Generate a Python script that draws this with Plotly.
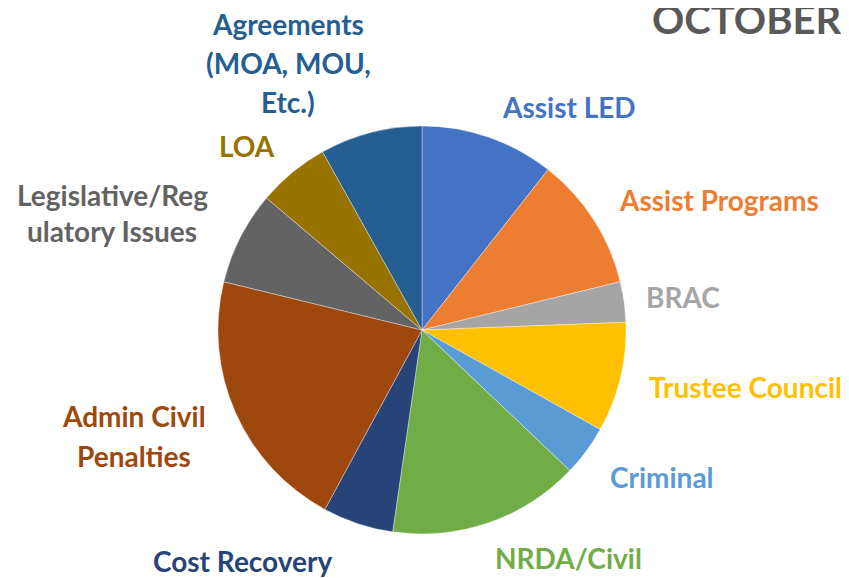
import plotly.graph_objects as go

categories = ["Assist LED", "Assist Programs", "BRAC", "Trustee Council", "Criminal",
              "NRDA/Civil", "Cost Recovery", "Admin Civil Penalties",
              "Legislative/Regulatory Issues", "LOA", "Agreements (MOA, MOU, Etc.)"]
values = [10.6, 10.6, 3.2, 8.7, 4.0, 15.2, 5.6, 20.9, 7.4, 5.7, 8.1]
colors = ["#4472C4", "#ED7D31", "#A5A5A5", "#FFC000", "#5B9BD5", "#70AD47",
          "#264478", "#9E480E", "#636363", "#997300", "#255E91"]
label_lines = [["Assist LED"], ["Assist Programs"], ["BRAC"], ["Trustee Council"],
               ["Criminal"], ["NRDA/Civil"], ["Cost Recovery"],
               ["Admin Civil", "Penalties"], ["Legislative/Reg", "ulatory Issues"],
               ["LOA"], ["Agreements", "(MOA, MOU,", "Etc.)"]]
title_text = "OCTOBER"

OFF = 8  # page body margin
W, H = 849 - OFF, 578 - OFF
cx, cy, R = 422 - OFF, 330 - OFF, 204

fig = go.Figure(go.Pie(
    labels=categories, values=values, sort=False, direction="clockwise", rotation=0,
    marker=dict(colors=colors, line=dict(color="rgba(255,255,255,0.6)", width=0.6)),
    textinfo="none", hoverinfo="label+percent", showlegend=False,
    domain=dict(x=[(cx - R) / W, (cx + R) / W], y=[(H - cy - R) / H, (H - cy + R) / H]),
))

# label centres (px in window) and line spacing
label_pos = [(569, 107), (719, 200), (683, 297), (745, 387), (662, 477), (568, 558),
             (242, 561), (134, 436), (112, 213), (247, 146), (288, 63)]
line_gap = [0, 0, 0, 0, 0, 0, 0, 40, 36, 0, 39]

annotations = []
for lines, (x, y), gap, col in zip(label_lines, label_pos, line_gap, colors):
    n = len(lines)
    for i, t in enumerate(lines):
        yy = y + (i - (n - 1) / 2) * gap - OFF
        annotations.append(dict(
            x=(x - OFF) / W, y=1 - yy / H, xref="paper", yref="paper", text=t, showarrow=False,
            xanchor="center", yanchor="middle",
            font=dict(family="Lato", size=28, color=col, weight="bold")))

annotations.append(dict(
    x=(650 - OFF) / W, y=1 - (19 - OFF) / H, xref="paper", yref="paper", text=title_text,
    showarrow=False, xanchor="left", yanchor="middle",
    font=dict(family="Lato", size=40, color="#595959", weight="bold")))

fig.update_layout(width=W, height=H, margin=dict(l=0, r=0, t=0, b=0),
                  paper_bgcolor="white", plot_bgcolor="white", annotations=annotations)
fig.write_html("out.html")
